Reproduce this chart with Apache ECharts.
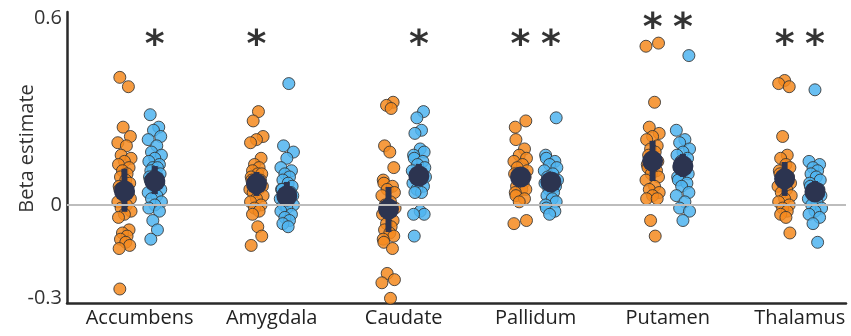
<!DOCTYPE html>
<html>
<head>
<meta charset="utf-8">
<script src="https://cdn.jsdelivr.net/npm/echarts@6/dist/echarts.min.js"></script>
<style>
  html, body { margin: 0; padding: 0; background: #fff; }
  #chart { width: 851px; height: 336px; }
</style>
</head>
<body>
<div id="chart"></div>
<script>
const categories = ['Accumbens', 'Amygdala', 'Caudate', 'Pallidum', 'Putamen', 'Thalamus']

// individual beta estimates, one list per region
const orangeValues = [
  [0.41, 0.38, 0.25, 0.22, 0.20, 0.19, 0.16, 0.15, 0.14, 0.13, 0.12, 0.11, 0.10, 0.09, 0.08, 0.07, 0.06, 0.05, 0.04, 0.03, 0.02, 0.01, 0.00, -0.01, -0.02, -0.03, -0.04, -0.08, -0.09, -0.10, -0.11, -0.12, -0.13, -0.14, -0.27],
  [0.30, 0.27, 0.22, 0.21, 0.20, 0.15, 0.13, 0.12, 0.11, 0.10, 0.10, 0.09, 0.08, 0.08, 0.07, 0.06, 0.05, 0.05, 0.04, 0.03, 0.02, 0.01, 0.00, -0.01, -0.02, -0.03, -0.07, -0.10, -0.13],
  [0.33, 0.32, 0.31, 0.19, 0.17, 0.12, 0.08, 0.07, 0.06, 0.05, 0.04, 0.03, 0.01, 0.00, -0.01, -0.02, -0.03, -0.05, -0.06, -0.07, -0.08, -0.09, -0.10, -0.11, -0.12, -0.14, -0.22, -0.24, -0.25, -0.30],
  [0.27, 0.25, 0.21, 0.18, 0.16, 0.15, 0.14, 0.13, 0.12, 0.11, 0.10, 0.10, 0.09, 0.08, 0.07, 0.06, 0.05, 0.05, 0.04, 0.03, 0.02, 0.01, -0.05, -0.06],
  [0.52, 0.51, 0.33, 0.25, 0.23, 0.22, 0.21, 0.19, 0.18, 0.17, 0.16, 0.15, 0.14, 0.13, 0.12, 0.11, 0.10, 0.09, 0.08, 0.06, 0.05, 0.04, 0.03, 0.02, 0.02, -0.05, -0.10],
  [0.40, 0.39, 0.38, 0.22, 0.16, 0.15, 0.13, 0.12, 0.11, 0.10, 0.09, 0.08, 0.07, 0.06, 0.05, 0.04, 0.03, 0.02, 0.01, 0.00, -0.01, -0.02, -0.03, -0.04, -0.09]
]
const blueValues = [
  [0.29, 0.25, 0.24, 0.22, 0.21, 0.19, 0.17, 0.16, 0.15, 0.14, 0.13, 0.12, 0.12, 0.11, 0.10, 0.10, 0.09, 0.08, 0.07, 0.06, 0.05, 0.04, 0.03, 0.02, 0.01, 0.00, -0.01, -0.02, -0.05, -0.08, -0.11],
  [0.39, 0.19, 0.17, 0.15, 0.12, 0.11, 0.10, 0.09, 0.08, 0.07, 0.06, 0.05, 0.05, 0.04, 0.03, 0.03, 0.02, 0.01, 0.00, 0.00, -0.01, -0.02, -0.03, -0.04, -0.05, -0.06, -0.07],
  [0.30, 0.28, 0.24, 0.23, 0.18, 0.17, 0.16, 0.15, 0.14, 0.13, 0.12, 0.11, 0.10, 0.09, 0.09, 0.08, 0.07, 0.06, 0.05, 0.04, 0.04, -0.02, -0.03, -0.03, -0.10],
  [0.28, 0.16, 0.15, 0.14, 0.13, 0.12, 0.11, 0.10, 0.09, 0.08, 0.08, 0.07, 0.06, 0.05, 0.04, 0.03, 0.02, 0.01, 0.00, -0.01, -0.02, -0.03],
  [0.48, 0.24, 0.21, 0.20, 0.18, 0.17, 0.16, 0.15, 0.14, 0.13, 0.12, 0.11, 0.10, 0.09, 0.08, 0.07, 0.06, 0.04, 0.03, 0.01, -0.01, -0.02, -0.05],
  [0.37, 0.14, 0.13, 0.12, 0.11, 0.10, 0.09, 0.08, 0.07, 0.06, 0.05, 0.04, 0.03, 0.02, 0.01, 0.00, -0.01, -0.02, -0.03, -0.04, -0.06, -0.12]
]

// group means and error bar ends
const orangeMean = [0.045, 0.068, -0.013, 0.090, 0.141, 0.084]
const orangeLow = [-0.022, 0.029, -0.087, 0.072, 0.077, 0.029]
const orangeHigh = [0.116, 0.106, 0.058, 0.108, 0.206, 0.138]
const blueMean = [0.077, 0.029, 0.093, 0.074, 0.125, 0.042]
const blueLow = [0.035, -0.003, 0.061, 0.058, 0.090, 0.010]
const blueHigh = [0.125, 0.074, 0.132, 0.090, 0.164, 0.077]

// significance stars (1 = star above that side)
const orangeStar = [0, 1, 0, 1, 1, 1]
const blueStar = [1, 0, 1, 1, 1, 1]
const starLevel = [0.51, 0.51, 0.51, 0.51, 0.565, 0.51]

const yTickLabels = [-0.3, 0, 0.6]

const SIDE = 0.115
const jitter = [-0.035, 0.03, -0.01, 0.045, -0.05, 0.015, -0.025, 0.05, 0.0, -0.045, 0.035, -0.015, 0.02, -0.03, 0.01, 0.04, -0.04]
const navy = '#2c3450'
const font = "'Open Sans', sans-serif"

function pointData(values, offset) {
  const out = []
  values.forEach((list, g) => {
    list.forEach((v, k) => {
      out.push([g + offset + jitter[(k + g * 5) % jitter.length], v])
    })
  })
  return out
}

function barData(low, high, offset) {
  return low.map((lo, g) => [g + offset, lo, high[g]])
}

function starData() {
  const out = []
  categories.forEach((c, g) => {
    if (orangeStar[g]) out.push([g - SIDE, starLevel[g]])
    if (blueStar[g]) out.push([g + SIDE, starLevel[g]])
  })
  return out
}

const renderBar = (params, api) => {
  const a = api.coord([api.value(0), api.value(1)])
  const b = api.coord([api.value(0), api.value(2)])
  return {
    type: 'line',
    shape: { x1: a[0], y1: a[1], x2: b[0], y2: b[1] },
    style: { stroke: navy, lineWidth: 6 }
  }
}

const chart = echarts.init(document.getElementById('chart'))

chart.setOption({
  animation: false,
  backgroundColor: '#fff',
  grid: { left: 67, right: 5, top: 12, bottom: 33, containLabel: false, outerBoundsMode: 'none' },
  xAxis: {
    type: 'value',
    min: -0.55,
    max: 5.35,
    interval: 0.05,
    axisLine: { show: true, onZero: false, lineStyle: { color: '#2a2a2a', width: 2.5 } },
    axisTick: { show: false },
    splitLine: { show: false },
    axisLabel: {
      color: '#222',
      fontSize: 20,
      fontFamily: font,
      margin: 5,
      formatter: (v) => {
        const i = Math.round(v)
        return Math.abs(v - i) < 1e-6 && categories[i] ? categories[i] : ''
      }
    }
  },
  yAxis: {
    type: 'value',
    min: -0.315,
    max: 0.62,
    interval: 0.005,
    name: 'Beta estimate',
    nameLocation: 'middle',
    nameGap: 30,
    nameMoveOverlap: false,
    nameTextStyle: { color: '#333', fontSize: 20, fontFamily: font, padding: [0, 0, 0, 18] },
    axisLine: { show: true, onZero: false, lineStyle: { color: '#2a2a2a', width: 2.5 } },
    axisTick: { show: false },
    splitLine: { show: false },
    axisLabel: {
      color: '#333',
      fontSize: 20,
      fontFamily: font,
      margin: 5,
      formatter: (v) => {
        const t = yTickLabels.find((y) => Math.abs(v - y) < 1e-6)
        return t === undefined ? '' : String(t)
      }
    }
  },
  series: [
    {
      type: 'scatter',
      data: pointData(orangeValues, -SIDE),
      symbolSize: 12,
      itemStyle: { color: '#f5891f', opacity: 0.85, borderColor: '#333', borderWidth: 1 },
      markLine: {
        silent: true,
        symbol: 'none',
        label: { show: false },
        lineStyle: { color: '#bdbdbd', width: 2, type: 'solid' },
        data: [{ yAxis: 0 }]
      },
      z: 2
    },
    {
      type: 'scatter',
      data: pointData(blueValues, SIDE),
      symbolSize: 12,
      itemStyle: { color: '#4fb4f0', opacity: 0.85, borderColor: '#333', borderWidth: 1 },
      z: 2
    },
    { type: 'custom', renderItem: renderBar, data: barData(orangeLow, orangeHigh, -SIDE), z: 3 },
    { type: 'custom', renderItem: renderBar, data: barData(blueLow, blueHigh, SIDE), z: 3 },
    {
      type: 'scatter',
      data: orangeMean.map((m, g) => [g - SIDE, m]),
      symbolSize: 21,
      itemStyle: { color: navy, opacity: 1 },
      z: 4
    },
    {
      type: 'scatter',
      data: blueMean.map((m, g) => [g + SIDE, m]),
      symbolSize: 21,
      itemStyle: { color: navy, opacity: 1 },
      z: 4
    },
    {
      type: 'scatter',
      data: starData(),
      symbolSize: 1,
      itemStyle: { color: 'rgba(0,0,0,0)' },
      label: {
        show: true,
        position: 'inside',
        formatter: '*',
        fontSize: 38,
        fontWeight: 'bold',
        fontFamily: 'DejaVu Sans',
        color: '#000'
      },
      z: 5
    }
  ]
})
</script>
</body>
</html>
